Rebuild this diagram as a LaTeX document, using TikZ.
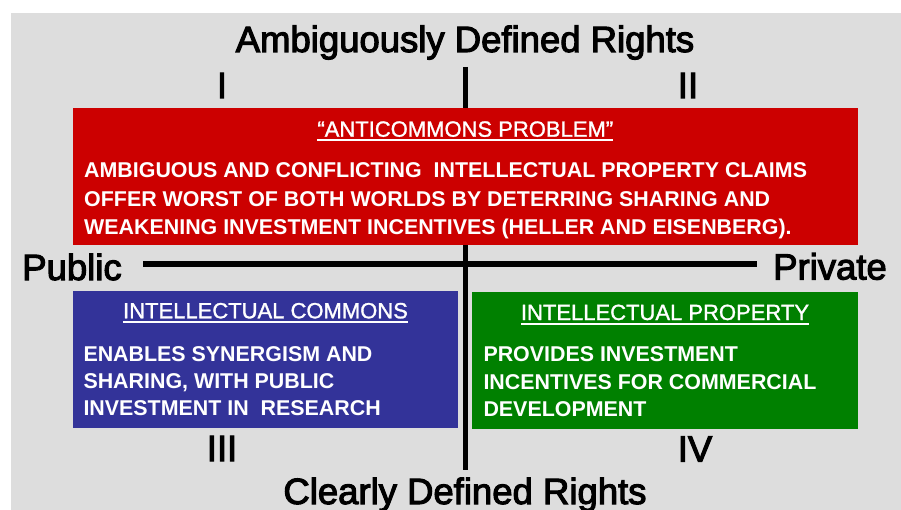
\documentclass[tikz,border=0pt]{standalone}
\usepackage{fontspec}
\setmainfont{Liberation Sans}
\newfontfamily\headfont[FakeBold=3]{Liberation Sans}
\newfontfamily\ttlfont[FakeBold=1.3]{Liberation Sans}
\definecolor{bg}{HTML}{DDDDDD}
\definecolor{boxred}{HTML}{CC0000}
\definecolor{boxblue}{HTML}{333399}
\definecolor{boxgreen}{HTML}{008000}
\begin{document}
\begin{tikzpicture}[x=1pt,y=-1pt,
  box/.style={draw=none, inner sep=0pt, outer sep=0pt, anchor=north west},
  head/.style={font=\headfont\fontsize{36.5}{40}\selectfont, text=black, inner sep=0pt, anchor=base},
  ttl/.style={font=\ttlfont\fontsize{22}{26}\selectfont, text=white, inner sep=0pt, anchor=base},
  body/.style={font=\fontsize{21.4}{26}\selectfont\bfseries, text=white, inner sep=0pt, anchor=base west},
  uline/.style={white, line width=1.8pt},
  vaxis/.style={black, line width=5pt},
  haxis/.style={black, line width=6pt}]
\useasboundingbox (0,0) rectangle (901,510);
\fill[white] (0,0) rectangle (901,510);
\fill[bg] (11,13) rectangle (901,510);
% axes
\coordinate (vtop) at (465,67);
\coordinate (vbot) at (465,470);
\coordinate (hleft) at (143,264.5);
\coordinate (hright) at (757,264.5);
\draw[vaxis] (vtop) -- (vbot);
\draw[haxis] (hleft) -- (hright);
% boxes
\node[box, fill=boxred, minimum width=785.3pt, minimum height=136.7pt] (red) at (72.7,108.3) {};
\node[box, fill=boxblue, minimum width=385.6pt, minimum height=137pt] (blue) at (72.7,291) {};
\node[box, fill=boxgreen, minimum width=385.7pt, minimum height=136.2pt] (green) at (472.3,292.3) {};
% headings
\node[head] (amb) at (465,52) {Ambiguously Defined Rights};
\node[head] (clr) at (465,504) {Clearly Defined Rights};
\node[head] (pub) at (72,280) {Public};
\node[head] (prv) at (830,279.5) {Private};
\node[head] (q1) at (222,98) {I};
\node[head] (q2) at (688,98) {II};
\node[head] (q3) at (222,461) {III};
\node[head] (q4) at (695,461.5) {IV};
% red box
\node[ttl] (rt) at (465.3,136.7) {“ANTICOMMONS PROBLEM”};
\draw[uline] ([yshift=-3.3pt]rt.base west) -- ([yshift=-3.3pt]rt.base east);
\node[body] (r1) at (84,177.7) {AMBIGUOUS AND CONFLICTING\ \ INTELLECTUAL PROPERTY CLAIMS};
\node[body] (r2) at (84,206.7) {OFFER WORST OF BOTH WORLDS BY DETERRING SHARING AND};
\node[body] (r3) at (84,234.3) {WEAKENING INVESTMENT INCENTIVES (HELLER AND EISENBERG).};
% blue box
\node[ttl] (bt) at (265.5,318.3) {INTELLECTUAL COMMONS};
\draw[uline] ([yshift=-3.5pt]bt.base west) -- ([yshift=-3.5pt]bt.base east);
\node[body] (b1) at (83.3,361) {ENABLES SYNERGISM AND};
\node[body] (b2) at (83.3,388.3) {SHARING, WITH PUBLIC};
\node[body] (b3) at (83.3,415) {INVESTMENT IN\ \ RESEARCH};
% green box
\node[ttl] (gt) at (665,320) {INTELLECTUAL PROPERTY};
\draw[uline] ([yshift=-3.8pt]gt.base west) -- ([yshift=-3.8pt]gt.base east);
\node[body] (g1) at (483.3,361.7) {PROVIDES INVESTMENT};
\node[body] (g2) at (483.3,389.3) {INCENTIVES FOR COMMERCIAL};
\node[body] (g3) at (483.3,416.7) {DEVELOPMENT};
\end{tikzpicture}
\end{document}
